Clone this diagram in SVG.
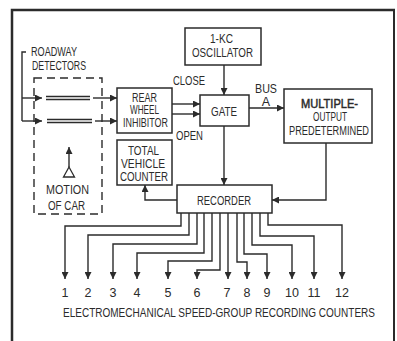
<svg xmlns="http://www.w3.org/2000/svg" width="397" height="341" viewBox="0 0 397 341">
<defs>
<marker id="ah" viewBox="0 0 10 10" refX="10" refY="5" markerWidth="7" markerHeight="7" markerUnits="userSpaceOnUse" orient="auto">
<path d="M0,0 L10,5 L0,10 Z" fill="#2b2b2b"/>
</marker>
<style>
.b{fill:#fff;stroke:#2b2b2b;stroke-width:1.5}
.l{fill:none;stroke:#2b2b2b;stroke-width:1.4}
.a{fill:none;stroke:#2b2b2b;stroke-width:1.4;marker-end:url(#ah)}
.d{fill:none;stroke:#2b2b2b;stroke-width:1.4;stroke-dasharray:8 5}
text{font-family:"Liberation Sans",Arial,sans-serif;font-size:12.5px;fill:#2b2b2b}
.c{text-anchor:middle}
</style>
</defs>
<rect width="397" height="341" fill="#fff"/>
<g id="frame">
<path d="M12,341 L12,10 L395,10" fill="none" stroke="#2b2b2b" stroke-width="2.5"/>
<path d="M394,10 L394,341" fill="none" stroke="#2b2b2b" stroke-width="2"/>
</g>
<g id="connectors">
<path class="l" d="M26,52 L22,52 L22,121"/>
<path class="a" d="M22,98 L42,98"/>
<path class="a" d="M22,121 L42,121"/>
<path class="l" d="M46,96.5 L90,96.5 M46,99.5 L90,99.5"/>
<path class="l" d="M47,119.5 L92,119.5 M47,122.5 L92,122.5"/>
<path class="a" d="M93,98 L117,98"/>
<path class="a" d="M95,121 L117,121"/>
<path class="a" d="M172,104 L200,104"/>
<path class="a" d="M172,114 L200,114"/>
<path class="a" d="M224,65 L224,95"/>
<path class="a" d="M224,126 L224,185"/>
<path class="a" d="M249,108 L284,108"/>
<path class="a" d="M326,143 L326,200 L272,200"/>
<path class="a" d="M177,200 L145,200 L145,185"/>
<path class="a" d="M181,213 L181,226 L65,226 L65,279"/>
<path class="a" d="M189,213 L189,235 L88,235 L88,279"/>
<path class="a" d="M197,213 L197,244 L113,244 L113,279"/>
<path class="a" d="M204,213 L204,253 L137,253 L137,279"/>
<path class="a" d="M212,213 L212,261 L168,261 L168,279"/>
<path class="a" d="M220,213 L220,270 L197,270 L197,279"/>
<path class="a" d="M228,213 L228,279"/>
<path class="a" d="M237,213 L237,262 L247,262 L247,279"/>
<path class="a" d="M244,213 L244,254 L267,254 L267,279"/>
<path class="a" d="M252,213 L252,245 L292,245 L292,279"/>
<path class="a" d="M260,213 L260,236 L314,236 L314,279"/>
<path class="a" d="M268,213 L268,225 L342,225 L342,279"/>
</g>
<g id="roadway-detectors">
<text x="31" y="56" textLength="46" lengthAdjust="spacingAndGlyphs">ROADWAY</text>
<text x="32" y="70" textLength="54" lengthAdjust="spacingAndGlyphs">DETECTORS</text>
</g>
<g id="car">
<rect class="d" x="34" y="78" width="68" height="136"/>
<path class="a" d="M69,167 L69,147"/>
<path d="M69,167 L63.5,177 L74.5,177 Z" fill="#fff" stroke="#2b2b2b" stroke-width="1.3"/>
<text x="46" y="194" textLength="43" lengthAdjust="spacingAndGlyphs">MOTION</text>
<text x="48" y="210" textLength="37" lengthAdjust="spacingAndGlyphs">OF CAR</text>
</g>
<g id="rear-wheel-inhibitor">
<rect class="b" x="117" y="88" width="55" height="45"/>
<text x="132" y="102" textLength="25" lengthAdjust="spacingAndGlyphs">REAR</text>
<text x="130" y="114" textLength="29" lengthAdjust="spacingAndGlyphs">WHEEL</text>
<text x="123" y="127" textLength="45" lengthAdjust="spacingAndGlyphs">INHIBITOR</text>
</g>
<g id="total-vehicle-counter">
<rect class="b" x="117" y="140" width="55" height="45"/>
<text x="128" y="155" textLength="31" lengthAdjust="spacingAndGlyphs">TOTAL</text>
<text x="121" y="168" textLength="44" lengthAdjust="spacingAndGlyphs">VEHICLE</text>
<text x="120" y="181" textLength="48" lengthAdjust="spacingAndGlyphs">COUNTER</text>
</g>
<g id="oscillator">
<rect class="b" x="185" y="28" width="76" height="37"/>
<text x="210" y="43" textLength="23" lengthAdjust="spacingAndGlyphs">1-KC</text>
<text x="192" y="57" textLength="61" lengthAdjust="spacingAndGlyphs">OSCILLATOR</text>
</g>
<g id="gate">
<rect class="b" x="200" y="95" width="49" height="31"/>
<text x="211" y="116" textLength="26" lengthAdjust="spacingAndGlyphs">GATE</text>
<text x="173" y="85" textLength="32" lengthAdjust="spacingAndGlyphs">CLOSE</text>
<text x="176" y="140" textLength="27" lengthAdjust="spacingAndGlyphs">OPEN</text>
<text x="255" y="93" textLength="22" lengthAdjust="spacingAndGlyphs">BUS</text>
<text x="266" y="106" class="c">A</text>
</g>
<g id="multiple-output">
<rect class="b" x="284" y="89" width="88" height="54"/>
<text x="301" y="108" textLength="57" lengthAdjust="spacingAndGlyphs" stroke="#2b2b2b" stroke-width="0.5">MULTIPLE-</text>
<text x="313" y="121" textLength="34" lengthAdjust="spacingAndGlyphs">OUTPUT</text>
<text x="289" y="135" textLength="80" lengthAdjust="spacingAndGlyphs">PREDETERMINED</text>
</g>
<g id="recorder">
<rect class="b" x="177" y="185" width="95" height="28"/>
<text x="197" y="205" textLength="54" lengthAdjust="spacingAndGlyphs">RECORDER</text>
</g>
<g id="counters">
<text class="c" x="65" y="297">1</text>
<text class="c" x="88" y="297">2</text>
<text class="c" x="113" y="297">3</text>
<text class="c" x="137" y="297">4</text>
<text class="c" x="168" y="297">5</text>
<text class="c" x="197" y="297">6</text>
<text class="c" x="227" y="297">7</text>
<text class="c" x="247" y="297">8</text>
<text class="c" x="267" y="297">9</text>
<text class="c" x="292" y="297">10</text>
<text class="c" x="314" y="297">11</text>
<text class="c" x="342" y="297">12</text>
<text x="63" y="317" textLength="312" lengthAdjust="spacingAndGlyphs">ELECTROMECHANICAL SPEED-GROUP RECORDING COUNTERS</text>
</g>
</svg>
